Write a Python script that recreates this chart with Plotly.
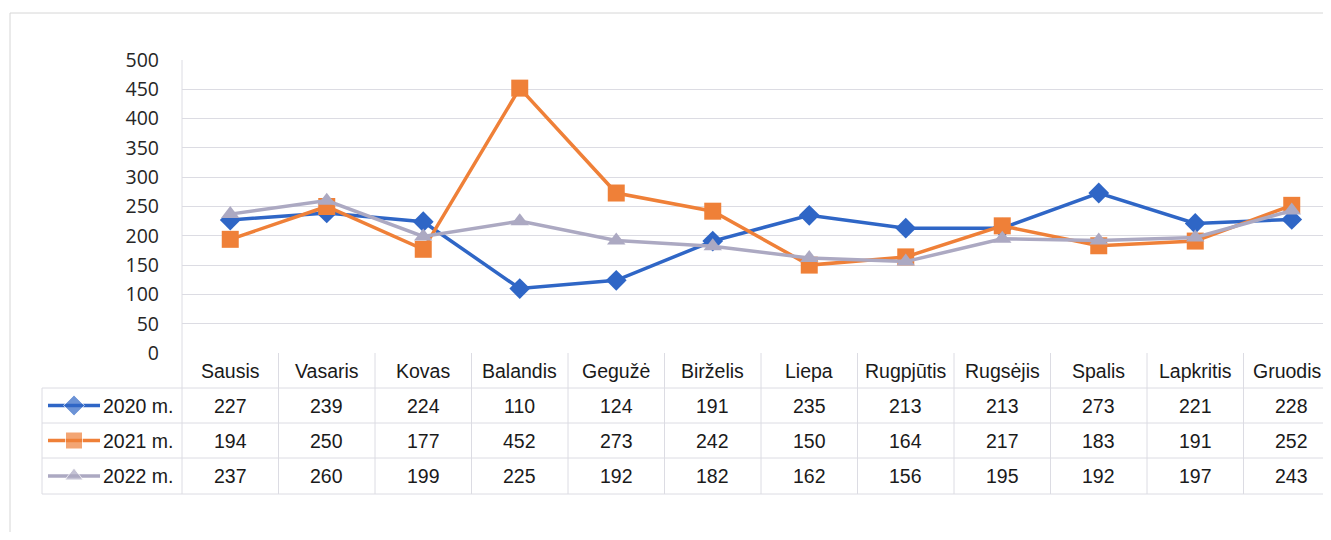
import plotly.graph_objects as go

months = ["Sausis", "Vasaris", "Kovas", "Balandis", "Gegužė", "Birželis",
          "Liepa", "Rugpjūtis", "Rugsėjis", "Spalis", "Lapkritis", "Gruodis"]
series_names = ["2020 m.", "2021 m.", "2022 m."]
v2020 = [227, 239, 224, 110, 124, 191, 235, 213, 213, 273, 221, 228]
v2021 = [194, 250, 177, 452, 273, 242, 150, 164, 217, 183, 191, 252]
v2022 = [237, 260, 199, 225, 192, 182, 162, 156, 195, 192, 197, 243]
y_ticks = [0, 50, 100, 150, 200, 250, 300, 350, 400, 450, 500]

# the page body has an 8px margin, so the figure is sized to fit inside it
OFF = 8
W, H = 1331 - 2 * OFF, 540 - 2 * OFF
colors = ["#2f66c6", "#ef8038", "#aca9c2"]
symbols = ["diamond", "square", "triangle-up"]
sizes = [16, 17, 16]
grid = "#dcdce3"
table_font = dict(family="Liberation Sans Narrow, Liberation Sans, Arial", size=19.5, color="#1a1a1a")

# screen-pixel layout of plot area and table
plot_left, plot_top, plot_bottom = 182, 60, 353
col_w = 96.5
row_lines = [353, 388, 423, 458, 494]


def fx(s):
    return (s - OFF) / W


def fy(s):
    return 1 - (s - OFF) / H


fig = go.Figure()
for name, vals, c, s, sz in zip(series_names, [v2020, v2021, v2022], colors, symbols, sizes):
    fig.add_trace(go.Scatter(
        x=months, y=vals, mode="lines+markers", name=name,
        line=dict(color=c, width=3.5),
        marker=dict(symbol=s, size=sz, color=c),
        xaxis="x", yaxis="y",
    ))

# legend samples in the table (screen-pixel overlay axis)
for i, (c, s, sz) in enumerate(zip(colors, symbols, sizes)):
    yc = (row_lines[i + 1] + row_lines[i + 2]) / 2
    fig.add_trace(go.Scatter(
        x=[48, 74, 100], y=[yc, yc, yc], mode="lines+markers",
        line=dict(color=c, width=3.5),
        marker=dict(symbol=s, size=[0, sz, 0], color=c),
        xaxis="x2", yaxis="y2", hoverinfo="skip",
    ))

x_last = (OFF + W - plot_left) / col_w - 0.5
fig.update_layout(
    width=W, height=H,
    margin=dict(l=0, r=0, t=0, b=0, autoexpand=False),
    paper_bgcolor="white", plot_bgcolor="rgba(0,0,0,0)",
    showlegend=False,
    xaxis=dict(
        domain=[fx(plot_left), 1], range=[-0.5, x_last],
        showticklabels=False, showgrid=False, zeroline=False, ticks="",
    ),
    yaxis=dict(
        domain=[fy(plot_bottom), fy(plot_top)], range=[0, 500],
        tickvals=y_ticks, showgrid=True, gridcolor=grid, gridwidth=1,
        zeroline=False, ticks="", ticklabelstandoff=22, automargin=False,
        tickfont=dict(family="Open Sans, Liberation Sans", size=19.5, color="#262626"),
    ),
    xaxis2=dict(domain=[0, 1], range=[OFF, OFF + W], visible=False, anchor="y2"),
    yaxis2=dict(domain=[0, 1], range=[OFF + H, OFF], visible=False, anchor="x2"),
)

shapes = []
line_style = dict(color=grid, width=1)
# outer chart border
shapes.append(dict(type="rect", xref="x2", yref="y2", x0=10, y0=13, x1=1345, y1=560,
                   line=dict(color="#d6d6d6", width=1)))
# plot left border down through table
shapes.append(dict(type="line", xref="x2", yref="y2", x0=plot_left, x1=plot_left,
                   y0=plot_top, y1=row_lines[-1], line=line_style))
# legend column left border
shapes.append(dict(type="line", xref="x2", yref="y2", x0=42, x1=42,
                   y0=row_lines[1], y1=row_lines[-1], line=line_style))
# horizontal table lines
for yl in row_lines[1:]:
    shapes.append(dict(type="line", xref="x2", yref="y2", x0=42, x1=1345,
                       y0=yl, y1=yl, line=line_style))
# column separators
for i in range(len(months)):
    shapes.append(dict(type="line", xref="x", yref="y2", x0=i + 0.5, x1=i + 0.5,
                       y0=row_lines[0], y1=row_lines[-1], line=line_style))
fig.update_layout(shapes=shapes)

ann = []
hy = (row_lines[0] + row_lines[1]) / 2
for i, m in enumerate(months):
    # last header sits at the page edge; nudge it in so it is not clipped
    shift = -4 if i == len(months) - 1 else 0
    ann.append(dict(x=i, y=hy, xref="x", yref="y2", text=m, showarrow=False,
                    font=table_font, xanchor="center", yanchor="middle", xshift=shift))
for r, (name, vals) in enumerate(zip(series_names, [v2020, v2021, v2022])):
    ry = (row_lines[r + 1] + row_lines[r + 2]) / 2
    ann.append(dict(x=101, y=ry, xref="x2", yref="y2", text=name, showarrow=False,
                    font=table_font, xanchor="left", yanchor="middle"))
    for i, v in enumerate(vals):
        ann.append(dict(x=i, y=ry, xref="x", yref="y2", text=str(v), showarrow=False,
                        font=table_font, xanchor="center", yanchor="middle"))
fig.update_layout(annotations=ann)

fig.write_html("out.html")
